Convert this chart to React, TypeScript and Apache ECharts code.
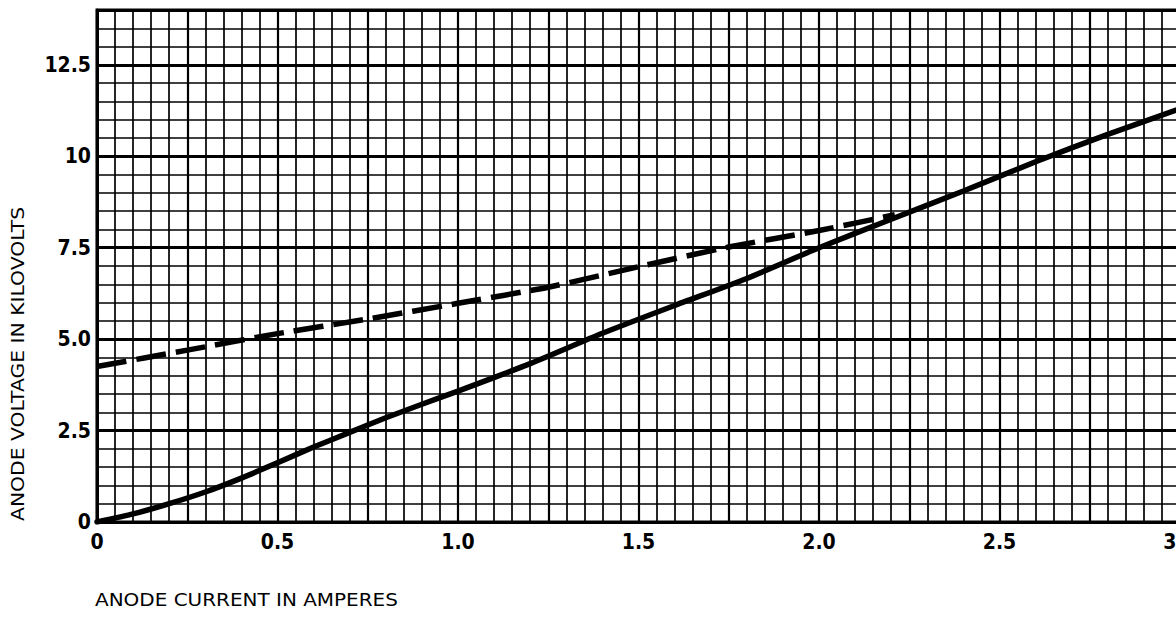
import React, { useEffect, useRef } from "react";
import * as echarts from "echarts";

// Anode current (A) vs anode voltage (kV)
const solidCurrent = [0, 0.1, 0.2, 0.3, 0.4, 0.5, 0.6, 0.7, 0.8, 0.9, 1.0, 1.2, 1.4, 1.6, 1.8, 2.0, 2.2, 2.4, 2.6, 2.8, 3.0];
const solidVoltage = [0, 0.22, 0.5, 0.82, 1.2, 1.62, 2.05, 2.45, 2.85, 3.22, 3.58, 4.33, 5.16, 5.92, 6.66, 7.5, 8.28, 9.05, 9.85, 10.6, 11.3];

const dashedCurrent = [0, 0.25, 0.5, 0.75, 1.0, 1.25, 1.5, 1.75, 2.0, 2.21];
const dashedVoltage = [4.25, 4.7, 5.15, 5.55, 5.98, 6.42, 6.98, 7.52, 7.97, 8.4];

const xTickValues = [0, 0.5, 1.0, 1.5, 2.0, 2.5, 3.0];
const xTickLabels = ["0", "0.5", "1.0", "1.5", "2.0", "2.5", "3.0"];
const yTickValues = [0, 2.5, 5, 7.5, 10, 12.5];
const yTickLabels = ["0", "2.5", "5.0", "7.5", "10", "12.5"];

const xTitle = "ANODE CURRENT IN AMPERES";
const yTitle = "ANODE VOLTAGE IN KILOVOLTS";

const LABEL_FONT = "'Liberation Sans Narrow', 'DejaVu Sans Condensed', 'Liberation Sans', Arial, sans-serif";
const TITLE_FONT = "'DejaVu Sans', 'Liberation Sans', Arial, sans-serif";

function lookup(values: number[], labels: string[], v: number): string {
  for (let i = 0; i < values.length; i++) {
    if (Math.abs(values[i] - v) < 1e-6) return labels[i];
  }
  return "";
}

export default function App() {
  const ref = useRef<HTMLDivElement>(null);
  useEffect(() => {
    if (!ref.current) return;
    const chart = echarts.init(ref.current, null, { renderer: "svg" });
    const zip = (a: number[], b: number[]) => a.map((v, i) => [v, b[i]]);
    const labelStyle = {
      color: "#000",
      fontFamily: LABEL_FONT,
      fontSize: 21,
      fontWeight: "bold" as any,
    };
    chart.setOption({
      animation: false,
      backgroundColor: "#fff",
      grid: {
        left: 97,
        top: 10,
        width: 1083,
        height: 512,
        show: true,
        borderColor: "#000",
        borderWidth: 3,
        backgroundColor: "transparent",
        containLabel: false,
        outerBoundsMode: "none",
      },
      xAxis: [
        {
          type: "value",
          min: 0,
          max: 3.0,
          interval: 0.25,
          axisLine: { show: true, onZero: false, lineStyle: { color: "#000", width: 3 } },
          axisTick: { show: false },
          splitLine: { show: true, lineStyle: { color: "#000", width: 2.2 } },
          minorTick: { show: false, splitNumber: 5 },
          minorSplitLine: { show: true, lineStyle: { color: "#000", width: 1.7 } },
          axisLabel: {
            ...labelStyle,
            margin: 9,
            formatter: (v: number) => lookup(xTickValues, xTickLabels, v),
          },
        },
      ],
      yAxis: [
        {
          type: "value",
          min: 0,
          max: 14,
          interval: 0.5,
          position: "left",
          axisLine: { show: false },
          axisTick: { show: false },
          axisLabel: { show: false },
          splitLine: { show: true, lineStyle: { color: "#000", width: 1.7 } },
        },
        {
          type: "value",
          min: 0,
          max: 14,
          interval: 2.5,
          position: "left",
          axisLine: { show: true, onZero: false, lineStyle: { color: "#000", width: 3 } },
          axisTick: { show: false },
          splitLine: { show: true, lineStyle: { color: "#000", width: 2.8 } },
          axisLabel: {
            ...labelStyle,
            margin: 6,
            formatter: (v: number) => lookup(yTickValues, yTickLabels, v),
          },
        },
      ],
      series: [
        {
          type: "line",
          yAxisIndex: 1,
          data: zip(solidCurrent, solidVoltage),
          showSymbol: false,
          smooth: 0.2,
          lineStyle: { color: "#000", width: 5.5, cap: "round" },
          z: 5,
        },
        {
          type: "line",
          yAxisIndex: 1,
          data: zip(dashedCurrent, dashedVoltage),
          showSymbol: false,
          smooth: 0.2,
          lineStyle: { color: "#000", width: 5.5, type: [30, 10] },
          z: 5,
        },
      ],
      graphic: [
        {
          type: "text",
          x: 95,
          y: 590,
          scaleX: 1.11,
          style: {
            text: xTitle,
            fill: "#000",
            font: `18px ${TITLE_FONT}`,
            verticalAlign: "top",
            align: "left",
          },
        },
        {
          type: "text",
          x: 9,
          y: 521,
          rotation: Math.PI / 2,
          scaleX: 1.13,
          style: {
            text: yTitle,
            fill: "#000",
            font: `18px ${TITLE_FONT}`,
            verticalAlign: "top",
            align: "left",
          },
        },
      ],
    });
    return () => chart.dispose();
  }, []);
  return (
    <div
      style={{ position: "fixed", left: 0, top: 0, width: 1176, height: 621, overflow: "hidden", background: "#fff" }}
    >
      <div ref={ref} style={{ width: 1200, height: 621 }} />
    </div>
  );
}
